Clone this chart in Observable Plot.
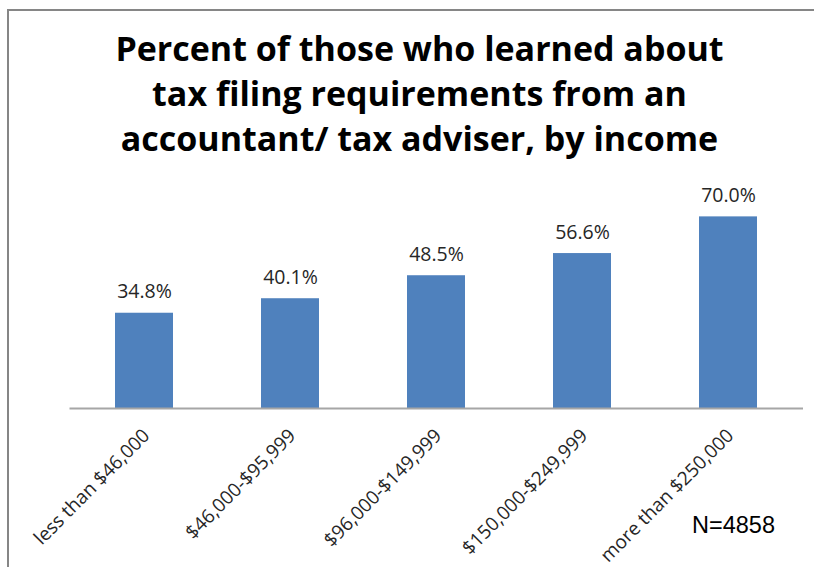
<!DOCTYPE html>
<html>
<head>
<meta charset="utf-8">
<script src="https://cdn.jsdelivr.net/npm/d3@7"></script>
<script src="https://cdn.jsdelivr.net/npm/@observablehq/plot@0.6"></script>
<style>
  html, body { margin: 0; padding: 0; background: #fff; overflow: hidden; }
  #wrap { position: relative; width: 814px; height: 567px; overflow: hidden; background: #fff; }
  #frame { position: absolute; left: 7px; top: 9px; width: 1000px; height: 1000px;
           border-top: 2px solid #868686; border-left: 2px solid #868686; box-sizing: border-box; }
  #title { position: relative; height: 170px; box-sizing: border-box; padding-top: 26px; margin-left: 25px;
           font-family: "Open Sans", sans-serif; font-weight: 700; font-size: 34px; line-height: 45px;
           text-align: center; color: #000; }
  #chart { position: relative; }
  #note { position: absolute; left: 692px; top: 512px; font-family: "Liberation Sans", Arial, sans-serif;
          font-size: 23.5px; color: #000; }
</style>
</head>
<body>
<div id="wrap">
  <div id="frame"></div>
  <div id="title">Percent of those who learned about<br>tax filing requirements from an<br>accountant/ tax adviser, by income</div>
  <div id="chart"></div>
  <div id="note">N=4858</div>
</div>
<script>
const categories = ["less than $46,000", "$46,000-$95,999", "$96,000-$149,999", "$150,000-$249,999", "more than $250,000"];
const values = [34.8, 40.1, 48.5, 56.6, 70.0];
const valueLabels = ["34.8%", "40.1%", "48.5%", "56.6%", "70.0%"];

const data = categories.map((c, i) => ({category: c, value: values[i], label: valueLabels[i]}));

const chart = Plot.plot({
  width: 814,
  height: 397,
  marginLeft: 69.5,
  marginRight: 11,
  marginTop: 19,
  marginBottom: 159,
  style: {background: "transparent", overflow: "visible"},
  x: {domain: categories, paddingInner: 0.6, paddingOuter: 0.3, axis: null},
  y: {domain: [0, 80], axis: null},
  marks: [
    Plot.barY(data, {x: "category", y: "value", fill: "#4F81BD"}),
    Plot.ruleY([0], {stroke: "#A6A6A6", strokeWidth: 2}),
    Plot.text(data, {x: "category", y: "value", text: "label", dy: -21,
      fontSize: 19.5, fill: "#262626", fontFamily: "Open Sans"}),
    Plot.text(data, {x: "category", y: () => 0, text: "category", rotate: -45,
      textAnchor: "end", lineAnchor: "middle", dx: 2, dy: 24,
      fontSize: 19, fill: "#262626", fontFamily: "Open Sans"})
  ]
});
document.getElementById("chart").appendChild(chart);
</script>
</body>
</html>
